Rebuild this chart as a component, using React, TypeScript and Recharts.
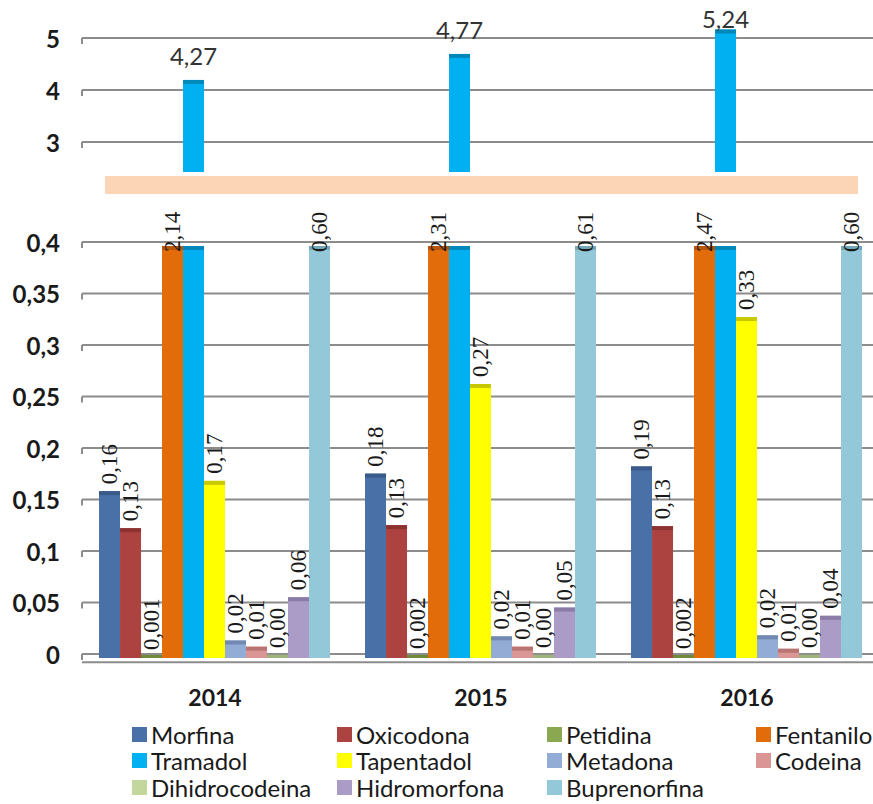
import React from 'react';
import { BarChart, Bar, XAxis, YAxis, CartesianGrid, LabelList, ReferenceLine } from 'recharts';

const YEARS = ['2014', '2015', '2016'];

const SERIES = [
  'Morfina', 'Oxicodona', 'Petidina', 'Fentanilo', 'Tramadol', 'Tapentadol',
  'Metadona', 'Codeina', 'Dihidrocodeina', 'Hidromorfona', 'Buprenorfina',
];

const MORFINA = [0.162, 0.179, 0.186];
const OXICODONA = [0.126, 0.129, 0.128];
const PETIDINA = [0.001, 0.002, 0.002];
const FENTANILO = [2.14, 2.31, 2.47];
const TRAMADOL = [4.27, 4.77, 5.24];
const TAPENTADOL = [0.172, 0.266, 0.331];
const METADONA = [0.017, 0.021, 0.022];
const CODEINA = [0.011, 0.011, 0.009];
const DIHIDROCODEINA = [0.003, 0.003, 0.003];
const HIDROMORFONA = [0.059, 0.049, 0.041];
const BUPRENORFINA = [0.6, 0.61, 0.6];

const VALUES = [
  MORFINA, OXICODONA, PETIDINA, FENTANILO, TRAMADOL, TAPENTADOL,
  METADONA, CODEINA, DIHIDROCODEINA, HIDROMORFONA, BUPRENORFINA,
];

// decimals shown in the data labels
const DECIMALS = [2, 2, 3, 2, 2, 2, 2, 2, 2, 2, 2];

const TOP_TICKS = [3, 4, 5];
const BOTTOM_TICKS = [0, 0.05, 0.1, 0.15, 0.2, 0.25, 0.3, 0.35, 0.4];

const COLORS = [
  '#4a70a8', '#ad4341', '#8aa84f', '#e36c0a', '#00b0f0', '#ffff00',
  '#93acd6', '#d99694', '#c3d69b', '#aa9cc6', '#93c8d8',
];
const CAPS = [
  '#3a5a8a', '#8c3331', '#6d8a3a', '#b85508', '#0088bb', '#c8c800',
  '#7289b2', '#b87572', '#9fb47a', '#8a7ca6', '#73a8b8',
];

const BOTTOM_MAX = 0.4;
const FONT = "Lato, 'Open Sans', sans-serif";
const GRID = '#8c8c8c';
const DEPTH = 4; // fake 3d: bars sit a little below the gridlines

const fmt = (v: number, d: number) => v.toFixed(d).replace('.', ',');

const topData = YEARS.map((year, i) => ({ year, Tramadol: TRAMADOL[i] }));

const bottomData = YEARS.map((year, i) => {
  const row: Record<string, any> = { year };
  SERIES.forEach((s, k) => {
    row[s] = Math.min(VALUES[k][i], BOTTOM_MAX);
    row[s + 'Raw'] = VALUES[k][i];
  });
  return row;
});

const CappedBar = (props: any) => {
  const { x, y, width, height, fill, cap } = props;
  if (height == null || isNaN(y) || height <= 0) return null;
  // tiny bars still show their top face, like the 3d original
  const h = Math.max(height, 3);
  const top = y + height - h + DEPTH;
  return (
    <g>
      <rect x={x} y={top} width={width} height={h} fill={fill} />
      <rect x={x} y={top} width={width} height={Math.min(4, h)} fill={cap} />
    </g>
  );
};

const YTick = (props: any) => {
  const { y, payload } = props;
  return (
    <g>
      <text x={60} y={y} textAnchor="end" dominantBaseline="central"
        fontFamily={FONT} fontWeight={700} fontSize={24} fill="#1a1a1a">
        {String(payload.value).replace('.', ',')}
      </text>
      <line x1={82} y1={y} x2={82} y2={y + 6} stroke={GRID} strokeWidth={2} />
    </g>
  );
};

const XTick = (props: any) => {
  const { x, y, payload } = props;
  return (
    <text x={x} y={y + 44} textAnchor="middle" fontFamily={FONT} fontWeight={700}
      fontSize={23} fill="#1a1a1a">
      {payload.value}
    </text>
  );
};

const topLabel = (props: any) => {
  const { x, y, width, value } = props;
  if (value == null) return null;
  const base = Math.max(y - 11, 28);
  return (
    <text x={x + width / 2} y={base} textAnchor="middle" fontFamily={FONT}
      fontSize={24} fill="#333">
      {fmt(value, 2)}
    </text>
  );
};

const rotLabel = (dec: number) => (props: any) => {
  const { x, y, width, value } = props;
  if (value == null) return null;
  const cx = x + width / 2;
  const y0 = value > BOTTOM_MAX ? y + 10 : y - 3;
  return (
    <text x={cx} y={y0} transform={`rotate(-90 ${cx} ${y0})`} textAnchor="start"
      dominantBaseline="central" fontFamily="'Liberation Serif', 'Times New Roman', serif"
      fontSize={23} fill="#1a1a1a">
      {fmt(value, dec)}
    </text>
  );
};

export default function App() {
  return (
    <div style={{ position: 'absolute', left: 0, top: 0, width: 873, height: 804, overflow: 'hidden', background: '#fff' }}>
      {/* upper panel: Tramadol only */}
      <div style={{ position: 'absolute', left: 0, top: 0 }}>
        <BarChart width={880} height={180} data={topData} barCategoryGap="6.4%" barGap={0}
          margin={{ top: 12, right: 0, bottom: 12, left: 0 }}>
          <CartesianGrid vertical={false} stroke={GRID} strokeWidth={2} syncWithTicks />
          <XAxis dataKey="year" hide />
          <YAxis domain={[2.5, 5.5]} ticks={TOP_TICKS} width={82} axisLine={false} tickLine={false} tick={<YTick />} />
          {SERIES.map((s, k) => (
            <Bar key={s} dataKey={s} fill={COLORS[k]} isAnimationActive={false}
              shape={(p: any) => <CappedBar {...p} cap={CAPS[k]} />}>
              {s === 'Tramadol' && <LabelList dataKey="Tramadol" content={topLabel} />}
            </Bar>
          ))}
        </BarChart>
      </div>

      {/* axis break band */}
      <div style={{ position: 'absolute', left: 105, top: 176, width: 753, height: 18, background: '#fbd5b5' }} />

      {/* lower panel */}
      <div style={{ position: 'absolute', left: 0, top: 180 }}>
        <BarChart width={880} height={540} data={bottomData} barCategoryGap="6.4%" barGap={0}
          margin={{ top: 62, right: 0, bottom: 0, left: 0 }}>
          <CartesianGrid vertical={false} stroke={GRID} strokeWidth={2} syncWithTicks />
          <XAxis dataKey="year" height={66} axisLine={false} tickLine={false} tick={<XTick />} />
          <YAxis domain={[0, BOTTOM_MAX]} ticks={BOTTOM_TICKS} width={82} axisLine={false} tickLine={false} tick={<YTick />} />
          <ReferenceLine y={-0.008} ifOverflow="visible" stroke={GRID} strokeWidth={2} />
          {SERIES.map((s, k) => (
            <Bar key={s} dataKey={s} fill={COLORS[k]} isAnimationActive={false}
              shape={(p: any) => <CappedBar {...p} cap={CAPS[k]} />}>
              {s !== 'Tramadol' && <LabelList dataKey={s + 'Raw'} content={rotLabel(DECIMALS[k])} />}
            </Bar>
          ))}
        </BarChart>
      </div>

      {/* legend */}
      {SERIES.map((s, k) => {
        const col = k % 4;
        const row = Math.floor(k / 4);
        const left = [132, 337, 547, 756][col];
        return (
          <div key={s} style={{
            position: 'absolute', left, top: 721 + row * 26.5, height: 26, display: 'flex',
            alignItems: 'center', fontFamily: FONT, fontSize: 24, color: '#1a1a1a', whiteSpace: 'nowrap',
          }}>
            <span style={{ display: 'inline-block', width: 15, height: 15, background: COLORS[k], marginRight: 4 }} />
            {s}
          </div>
        );
      })}
    </div>
  );
}
